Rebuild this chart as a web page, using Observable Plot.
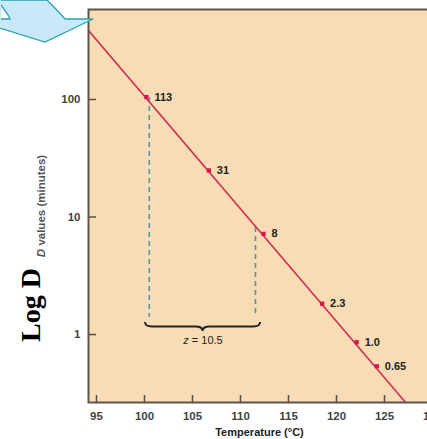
<!DOCTYPE html>
<html><head><meta charset="utf-8">
<script src="https://cdn.jsdelivr.net/npm/d3@7"></script>
<script src="https://cdn.jsdelivr.net/npm/@observablehq/plot@0.6"></script>
<style>
html,body{margin:0;padding:0;overflow:hidden;background:#fff;width:427px;height:439px}
#wrap{position:relative;width:427px;height:439px;overflow:hidden}
#wrap svg{max-width:none !important;height:auto}
#wrap svg.overlay{position:absolute;left:0;top:0;pointer-events:none}
</style></head><body><div id="wrap"></div>
<script>
// ---- data ----
const temps = [100.2, 106.7, 112.4, 118.5, 122.1, 124.2];        // °C positions of the points
const dValues = [104.7, 24.9, 7.19, 1.83, 0.86, 0.537];          // drawn heights (log scale)
const pointLabels = ["113", "31", "8", "2.3", "1.0", "0.65"];
const lineTemps = [94.17, 127.2];
const lineD = [386, 0.264];
const dashTemps = [100.5, 111.56];
const dashTop = [104, 8.14];
const dashBottom = [1.395, 1.395];
const braceTemps = [100.1, 112.1];
const braceD = [1.265];
const zLabelTemp = [106.15];
const zLabelD = [0.889];
const xTicks = [95, 100, 105, 110, 115, 120, 125, 130];
const yTicks = [1, 10, 100];

const points = temps.map((t, i) => ({t, d: dValues[i], label: pointLabels[i]}));
const lineData = lineTemps.map((t, i) => ({t, d: lineD[i]}));
const dashData = dashTemps.map((t, i) => ({t, y1: dashTop[i], y2: dashBottom[i]}));

const FONT = "'Liberation Sans', Arial, Helvetica, sans-serif";
const AXIS = "#5a4e46";

function braceMark(index, scales, values, dims) {
  const g = d3.create("svg:g");
  const x1 = scales.x(braceTemps[0]), x2 = scales.x(braceTemps[1]);
  const y0 = scales.y(braceD[0]), h = 9, ym = y0 + h / 2, xm = (x1 + x2) / 2, r = 7;
  g.append("path")
    .attr("d", `M${x1},${y0} Q${x1},${ym} ${x1 + r},${ym} L${xm - r},${ym} Q${xm},${ym} ${xm},${y0 + h} Q${xm},${ym} ${xm + r},${ym} L${x2 - r},${ym} Q${x2},${ym} ${x2},${y0}`)
    .attr("fill", "none").attr("stroke", "#222").attr("stroke-width", 1.9);
  const t = g.append("text")
    .attr("x", scales.x(zLabelTemp[0])).attr("y", scales.y(zLabelD[0]))
    .attr("text-anchor", "middle").attr("dominant-baseline", "central")
    .attr("font-family", FONT).attr("font-size", 11).attr("fill", "#222");
  t.append("tspan").attr("font-style", "italic").text("z");
  t.append("tspan").text(" = 10.5");
  return g.node();
}

function titleMark(index, scales, values, dims) {
  const g = d3.create("svg:g");
  g.append("text")
    .attr("transform", "translate(40,305) rotate(-90)")
    .attr("text-anchor", "middle")
    .attr("font-family", "'Liberation Serif', 'Times New Roman', serif")
    .attr("font-weight", "bold").attr("font-size", 28).attr("fill", "#000")
    .text("Log D");
  const s = g.append("text")
    .attr("transform", "translate(45,206) rotate(-90)")
    .attr("text-anchor", "middle")
    .attr("font-family", FONT).attr("font-weight", "bold")
    .attr("font-size", 11.5).attr("fill", "#555");
  s.append("tspan").attr("font-style", "italic").text("D");
  s.append("tspan").text(" values (minutes)");
  g.append("text")
    .attr("x", 259.5).attr("y", 436)
    .attr("text-anchor", "middle")
    .attr("font-family", FONT).attr("font-weight", "bold")
    .attr("font-size", 11).attr("fill", "#222")
    .text("Temperature (°C)");
  return g.node();
}

const plot = Plot.plot({
  width: 440, height: 439,
  marginLeft: 88, marginRight: 0, marginTop: 9, marginBottom: 37,
  style: {background: "transparent", fontFamily: FONT, overflow: "visible", maxWidth: "none"},
  x: {domain: [94.167, 130.833]},
  y: {type: "log", domain: [0.264, 583]},
  marks: [
    Plot.frame({fill: "#f7dcb5", stroke: null}),
    Plot.tickX(xTicks, {x: d => d, stroke: AXIS, strokeWidth: 1.5, insetTop: 386}),
    Plot.tickY(yTicks, {y: d => d, stroke: AXIS, strokeWidth: 1.5, insetRight: 344}),
    Plot.axisX(xTicks, {tickSize: 0, tickPadding: 9, fontSize: 11.5, fontWeight: "bold", fill: "#444", label: null, tickFormat: d => String(d)}),
    Plot.axisY(yTicks, {tickSize: 0, tickPadding: 8, fontSize: 11.5, fontWeight: "bold", fill: "#444", label: null, tickFormat: d => String(d)}),
    Plot.ruleX(dashData, {x: "t", y1: "y1", y2: "y2", stroke: "#4d98a8", strokeWidth: 1.6, strokeDasharray: "5,4"}),
    Plot.line(lineData, {x: "t", y: "d", stroke: "#d1324f", strokeWidth: 1.6, clip: true}),
    Plot.dot(points, {x: "t", y: "d", r: 2.4, symbol: "square", fill: "#d9144f"}),
    Plot.text(points, {x: "t", y: "d", text: "label", dx: 8, textAnchor: "start", fontWeight: "bold", fontSize: 11, fill: "#222"}),
    braceMark,
    Plot.frame({stroke: "#5e544d", strokeWidth: 2, fill: null}),
    titleMark
  ]
});
const wrap = document.getElementById("wrap");
wrap.appendChild(plot);

// decorative callout arrow (top-left corner)
const ov = d3.select(wrap).append("svg").attr("class", "overlay").attr("width", 110).attr("height", 50);
ov.append("path")
  .attr("d", "M0,0 L47,0 C53,6 60,13 65,19 L93,19 L45,42 L0,28 Z")
  .attr("fill", "#c9e9fa").attr("stroke", "#27a3b3").attr("stroke-width", 1.3).attr("stroke-linejoin", "miter");
ov.append("path")
  .attr("d", "M0,4 C4,9 8,14 10,19 L0,19 Z")
  .attr("fill", "#ffffff").attr("stroke", "#27a3b3").attr("stroke-width", 1.3);
ov.append("rect").attr("x", 0).attr("y", 0).attr("width", 1).attr("height", 28).attr("fill", "#c9e9fa");
</script></body></html>
